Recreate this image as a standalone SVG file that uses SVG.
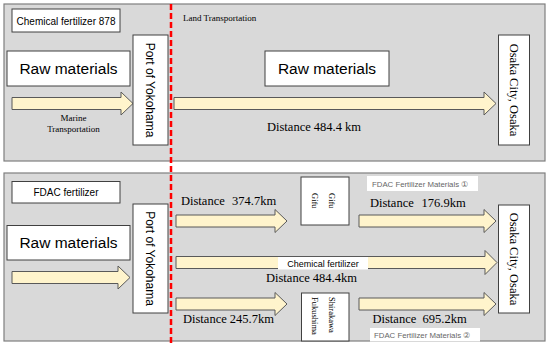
<svg xmlns="http://www.w3.org/2000/svg" width="550" height="345" viewBox="0 0 550 345">
<style>
.panel{fill:#d9d9d9;stroke:#7f7f7f;stroke-width:1.2}
.box{fill:#fff;stroke:#404040;stroke-width:1}
.wbox{fill:#fff;stroke:none}
.arr{fill:#fff4cc;stroke:#595959;stroke-width:1}
.sans{font-family:"Liberation Sans",Arial,sans-serif;fill:#000}
.serif{font-family:"Liberation Serif","Times New Roman",serif;fill:#000}
.big{font-size:15.5px}
.lbl{font-size:10px}
.dist{font-size:12.5px}
.small{font-size:9px}
.mat{font-size:7.8px;fill:#666}
.mid{text-anchor:middle}
</style>
<rect id="panel-top" class="panel" x="4" y="4" width="541" height="157"/>
<rect id="panel-bottom" class="panel" x="4" y="173" width="541" height="168"/>

<g id="connectors">
<path class="arr" d="M12,97.5 H121 V92 L133,103.5 L121,115 V109.5 H12 Z"/>
<path class="arr" d="M174,97.5 H484 V92 L496,103.5 L484,115 V109.5 H174 Z"/>
<path class="arr" d="M12,271.5 H118 V266 L130,277.5 L118,289 V283.5 H12 Z"/>
<path class="arr" d="M176,215 H275 V209.5 L287,221 L275,232.5 V227 H176 Z"/>
<path class="arr" d="M176,256.5 H485 V250.5 L497,262.5 L485,274.5 V268.5 H176 Z"/>
<path class="arr" d="M176,298 H275 V292.5 L287,304 L275,315.5 V310 H176 Z"/>
<path class="arr" d="M359,215 H484 V209.5 L496,221 L484,232.5 V227 H359 Z"/>
<path class="arr" d="M359,298 H484 V292.5 L496,304 L484,315.5 V310 H359 Z"/>
</g>

<line id="divider" x1="171" y1="4" x2="171" y2="345" stroke="#ff0000" stroke-width="2.5" stroke-dasharray="6 3"/>

<g id="title-chem">
<rect class="box" x="12" y="9" width="108" height="23"/>
<text class="sans lbl mid" x="66" y="24.5">Chemical fertilizer  878</text>
</g>
<text id="land-transport" class="serif small" x="183" y="20.5">Land Transportation</text>
<g id="raw-top-left">
<rect class="box" x="7" y="51" width="123" height="35"/>
<text class="sans big mid" x="68.5" y="74">Raw materials</text>
</g>
<g id="marine-label">
<text class="serif small mid" x="73.5" y="121">Marine</text>
<text class="serif small mid" x="73.5" y="132">Transportation</text>
</g>
<g id="port-top">
<rect class="box" x="133" y="35" width="35" height="110"/>
<text class="sans mid" font-size="12" transform="translate(150.5,90) rotate(90)" dy="4.2">Port of Yokohama</text>
</g>
<g id="raw-top-center">
<rect class="box" x="265" y="51" width="124" height="35"/>
<text class="sans big mid" x="327" y="74">Raw materials</text>
</g>
<text id="dist-top" class="serif dist" x="267" y="131">Distance 484.4 km</text>
<g id="osaka-top">
<rect class="box" x="498.5" y="35" width="31" height="110"/>
<text class="serif mid" font-size="12.5" transform="translate(514,90) rotate(90)" dy="4.2">Osaka City, Osaka</text>
</g>

<g id="title-fdac">
<rect class="box" x="12" y="181.5" width="108" height="21.5"/>
<text class="sans lbl mid" x="66" y="196">FDAC fertilizer</text>
</g>
<g id="raw-bottom">
<rect class="box" x="7" y="225.5" width="123" height="34.5"/>
<text class="sans big mid" x="68.5" y="248">Raw materials</text>
</g>
<g id="port-bottom">
<rect class="box" x="133" y="204" width="35" height="109"/>
<text class="sans mid" font-size="12" transform="translate(150.5,258.5) rotate(90)" dy="4.2">Port of Yokohama</text>
</g>
<g id="dist-labels">
<text class="serif dist" x="181" y="205">Distance</text>
<text class="serif dist" x="232" y="205">374.7km</text>
<text class="serif dist" x="183" y="323">Distance 245.7km</text>
<text class="serif dist" x="266" y="281.5">Distance 484.4km</text>
<text class="serif dist" x="370" y="206.5">Distance</text>
<text class="serif dist" x="421.5" y="206.5">176.9km</text>
<text class="serif dist" x="372.5" y="323">Distance</text>
<text class="serif dist" x="422.5" y="323">695.2km</text>
</g>
<g id="chem-label">
<rect class="wbox" x="278" y="257" width="90" height="12.5"/>
<text class="sans mid" font-size="9" x="323" y="266.5">Chemical fertilizer</text>
</g>
<g id="gifu">
<rect class="box" x="301" y="177" width="48" height="48"/>
<text class="serif" font-size="8.5" transform="translate(332,193) rotate(90)" dy="3">Gifu</text>
<text class="serif" font-size="8.5" transform="translate(315,193) rotate(90)" dy="3">Gifu</text>
</g>
<g id="shirakawa">
<rect class="box" x="301.5" y="293" width="47.5" height="48"/>
<text class="serif" font-size="8.5" transform="translate(332,297) rotate(90)" dy="3">Shirakawa</text>
<text class="serif" font-size="8.5" transform="translate(315,297) rotate(90)" dy="3">Fukushima</text>
</g>
<g id="fdac-mat-1">
<rect class="wbox" x="367" y="176" width="111" height="15"/>
<text class="sans mat" x="372" y="186.7">FDAC Fertilizer Materials ①</text>
</g>
<g id="fdac-mat-2">
<rect class="wbox" x="370" y="328" width="110" height="13.5"/>
<text class="sans mat" x="374" y="337.5">FDAC Fertilizer Materials ②</text>
</g>
<g id="osaka-bottom">
<rect class="box" x="498.5" y="205" width="31" height="108"/>
<text class="serif mid" font-size="12.5" transform="translate(514,259) rotate(90)" dy="4.2">Osaka City, Osaka</text>
</g>
</svg>
